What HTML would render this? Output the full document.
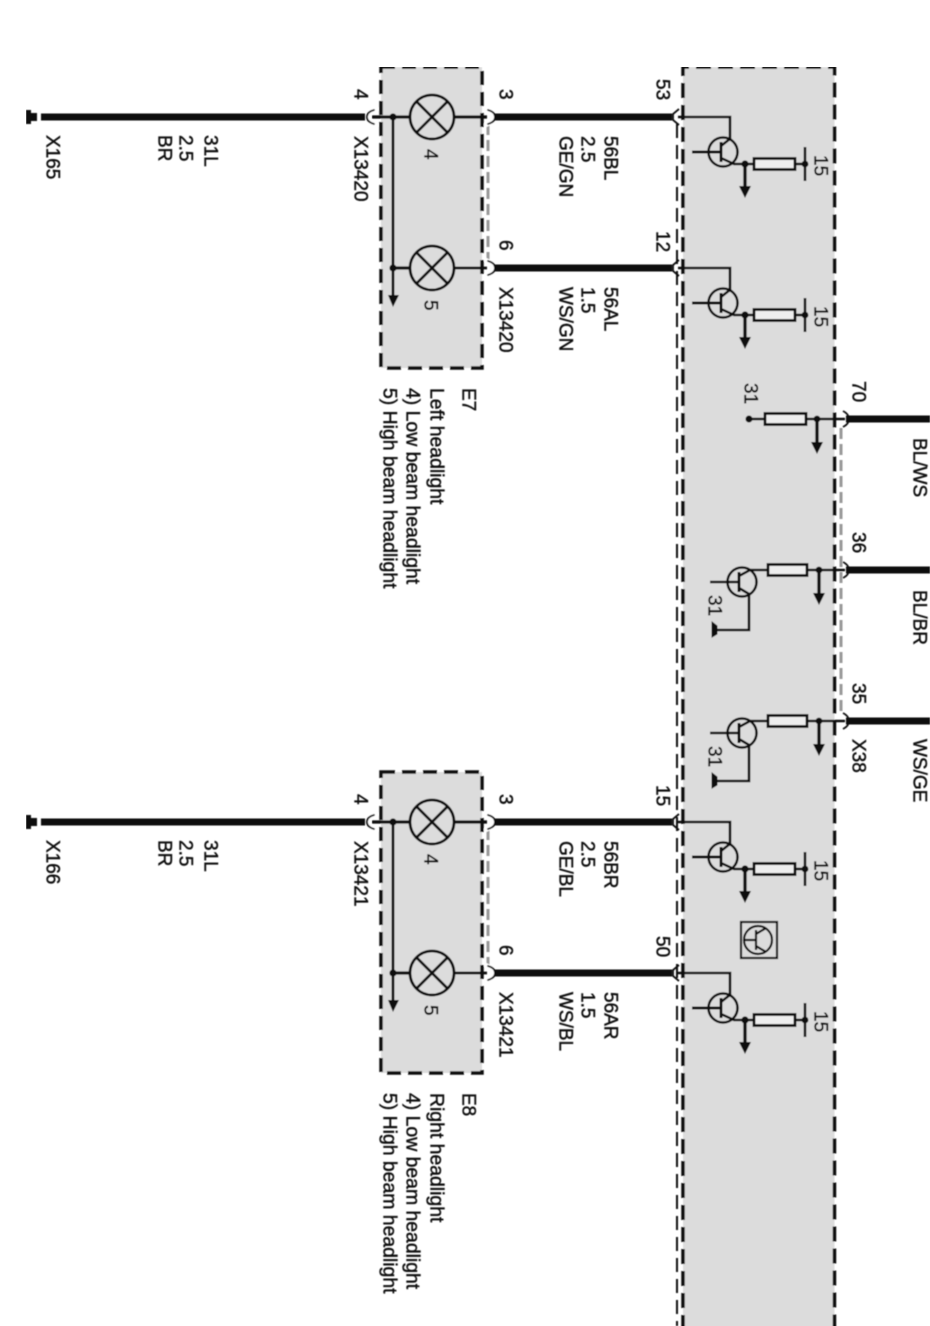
<!DOCTYPE html>
<html><head><meta charset="utf-8"><style>
html,body{margin:0;padding:0;background:#fff}
svg{display:block}
text{font-family:"Liberation Sans",sans-serif;font-size:19px;fill:#111;stroke:#111;stroke-width:.45px}
text.h{font-size:19.4px}
</style></head><body>
<svg width="930" height="1326" viewBox="0 0 930 1326" xmlns="http://www.w3.org/2000/svg">
<defs>
<filter id="b" x="0" y="0" width="100%" height="100%"><feGaussianBlur stdDeviation="0.4"/></filter>
<g id="npn" fill="none" stroke="#111" stroke-width="2.600">
<circle cx="723" cy="35" r="14.500"/>
<path d="M678 0H730V24" />
<path d="M692 35H721" stroke-width="3"/>
<path d="M721 25V45" stroke-width="3"/>
<path d="M721 29L731 21M721 41L734 47H754"/>
<path d="M745 47V72" stroke-width="3.400"/>
<path d="M795 47H805"/>
<path d="M805 30V64"/>
<rect x="754" y="41.500" width="41" height="11" fill="#eee" stroke-width="2.800"/>
<circle cx="745" cy="47" r="3.600" fill="#111" stroke="none"/>
<circle cx="805" cy="47" r="3.400" fill="#111" stroke="none"/>
<path d="M739 69H751L745 81Z" fill="#111" stroke="none"/>
</g>
<g id="out" fill="none" stroke="#111" stroke-width="2.600">
<circle cx="742" cy="12" r="14.500"/>
<path d="M710 12H738"/>
<path d="M739 2V22" stroke-width="3"/>
<path d="M739 6L750 0H768"/>
<path d="M739 18L749 24V60H717"/>
<path d="M807 0H845"/>
<path d="M819 0V25" stroke-width="3.400"/>
<rect x="768" y="-5.500" width="39" height="11" fill="#eee" stroke-width="2.800"/>
<circle cx="819" cy="0" r="3.400" fill="#111" stroke="none"/>
<path d="M813 23H825L819 35Z" fill="#111" stroke="none"/>
<path d="M712 52V67L717 64V56Z" fill="#111" stroke="#111" stroke-width="1"/>
</g>
<g id="lampbox">
<rect x="381" y="67" width="101" height="301" fill="#dcdcdc" stroke="#111" stroke-width="3.500" stroke-dasharray="14 7"/>
<path d="M488 124V260" stroke="#999" stroke-width="3" stroke-dasharray="11 5" fill="none"/>
<g fill="none" stroke="#111" stroke-width="2.800">
<path d="M372 117H410M454 117H487" stroke-width="3.200"/>
<path d="M393 117V296"/>
<path d="M393 268H410" stroke-width="3.200"/>
<path d="M454 268H487"/>
<circle cx="432" cy="117" r="22"/>
<path d="M416.500 101.500L447.500 132.500M447.500 101.500L416.500 132.500"/>
<circle cx="432" cy="268" r="22"/>
<path d="M416.500 252.500L447.500 283.500M447.500 252.500L416.500 283.500"/>
</g>
<circle cx="393" cy="117" r="3.600" fill="#111"/>
<circle cx="393" cy="268" r="3.600" fill="#111"/>
<path d="M388 295H399L393 307Z" fill="#111"/>
<path d="M41 113.500H365V120.500H41Z" fill="#111"/>
<path d="M491 113.500H672V120.500H491Z" fill="#111"/>
<path d="M491 264.500H672V271.500H491Z" fill="#111"/>
<path d="M26 110H31V113H37V121H31V124H26Z" fill="#111"/>
<g fill="none" stroke-linecap="round">
<path d="M376 109Q368 112 369 117Q368 122 376 125" stroke="#fff" stroke-width="4"/>
<path d="M374 110Q367 112 367 117Q367 122 374 124" stroke="#111" stroke-width="1.800"/>
<path d="M486 109Q494 112 493 117Q494 122 486 125" stroke="#fff" stroke-width="4"/>
<path d="M488 110Q495 112 495 117Q495 122 488 124" stroke="#111" stroke-width="1.800"/>
<path d="M486 260Q494 263 493 268Q494 273 486 276" stroke="#fff" stroke-width="4"/>
<path d="M488 261Q495 263 495 268Q495 273 488 275" stroke="#111" stroke-width="1.800"/>
</g>
</g>
</defs>
<rect width="930" height="1326" fill="#fff"/>
<g filter="url(#b)">
<path d="M683 1330V67H834.500V1330" fill="#dcdcdc" stroke="#111" stroke-width="3.500" stroke-dasharray="15 7"/>
<path d="M677 124V1326" fill="none" stroke="#111" stroke-width="2" stroke-dasharray="14 7"/>
<path d="M841 428V716" fill="none" stroke="#999" stroke-width="3" stroke-dasharray="11 5"/>
<use href="#lampbox"/>
<use href="#lampbox" y="705"/>
<path d="M846 415.500H930V422.500H846Z M846 566.500H930V573.500H846Z M846 717.500H930V724.500H846Z" fill="#111"/>
<g fill="none" stroke="#111" stroke-width="1.800">
<path d="M679 109L673 114V120L679 125M679 260L673 265V271L679 276M679 814L673 819V825L679 830M679 965L673 970V976L679 981"/>
<path d="M843 411Q849 414 849 419Q849 424 843 427M843 562Q849 565 849 570Q849 575 843 578M843 713Q849 716 849 721Q849 726 843 729"/>
</g>
<use href="#npn" y="117"/>
<use href="#npn" y="268"/>
<use href="#npn" y="822"/>
<use href="#npn" y="973"/>
<use href="#out" y="570"/>
<use href="#out" y="721"/>
<g fill="none" stroke="#111" stroke-width="2.600">
<path d="M749 419H845"/>
<path d="M817 419V444" stroke-width="3.400"/>
<rect x="765" y="413.500" width="41" height="11" fill="#eee" stroke-width="2.800"/>
</g>
<circle cx="817" cy="419" r="3.400" fill="#111"/>
<path d="M811 442H823L817 454Z" fill="#111"/>
<circle cx="749" cy="419" r="3.500" fill="#111"/>
<g fill="none" stroke="#111" stroke-width="2.200">
<rect x="741" y="922" width="36" height="36"/>
<circle cx="758" cy="940" r="14"/>
<path d="M744 940H756M756 930V950M756 934L766 928M756 946L766 952"/>
</g>
<g transform="translate(1.500,0)">
<text transform="translate(45,135) rotate(90)">X165</text>
<text transform="translate(157,135) rotate(90)">BR</text>
<text transform="translate(178,135) rotate(90)">2.5</text>
<text transform="translate(203,135) rotate(90)">31L</text>
<text transform="translate(353,89) rotate(90)">4</text>
<text transform="translate(353,136) rotate(90)">X13420</text>
<text transform="translate(423,149) rotate(90)">4</text>
<text transform="translate(423,300) rotate(90)">5</text>
<text transform="translate(498,89) rotate(90)">3</text>
<text transform="translate(498,240) rotate(90)">6</text>
<text transform="translate(498,287) rotate(90)">X13420</text>
<text transform="translate(558,136) rotate(90)">GE/GN</text>
<text transform="translate(580,136) rotate(90)">2.5</text>
<text transform="translate(603,136) rotate(90)">56BL</text>
<text transform="translate(558,287) rotate(90)">WS/GN</text>
<text transform="translate(580,287) rotate(90)">1.5</text>
<text transform="translate(603,287) rotate(90)">56AL</text>
<text transform="translate(461,388) rotate(90)">E7</text>
<text class="h" transform="translate(429,388) rotate(90)">Left headlight</text>
<text class="h" transform="translate(405,388) rotate(90)">4) Low beam headlight</text>
<text class="h" transform="translate(382,388) rotate(90)">5) High beam headlight</text>

<text transform="translate(45,840) rotate(90)">X166</text>
<text transform="translate(157,840) rotate(90)">BR</text>
<text transform="translate(178,840) rotate(90)">2.5</text>
<text transform="translate(203,840) rotate(90)">31L</text>
<text transform="translate(353,794) rotate(90)">4</text>
<text transform="translate(353,841) rotate(90)">X13421</text>
<text transform="translate(423,854) rotate(90)">4</text>
<text transform="translate(423,1005) rotate(90)">5</text>
<text transform="translate(498,794) rotate(90)">3</text>
<text transform="translate(498,945) rotate(90)">6</text>
<text transform="translate(498,992) rotate(90)">X13421</text>
<text transform="translate(558,841) rotate(90)">GE/BL</text>
<text transform="translate(580,841) rotate(90)">2.5</text>
<text transform="translate(603,841) rotate(90)">56BR</text>
<text transform="translate(558,992) rotate(90)">WS/BL</text>
<text transform="translate(580,992) rotate(90)">1.5</text>
<text transform="translate(603,992) rotate(90)">56AR</text>
<text transform="translate(461,1093) rotate(90)">E8</text>
<text class="h" transform="translate(429,1093) rotate(90)">Right headlight</text>
<text class="h" transform="translate(405,1093) rotate(90)">4) Low beam headlight</text>
<text class="h" transform="translate(382,1093) rotate(90)">5) High beam headlight</text>

<text transform="translate(655,79) rotate(90)">53</text>
<text transform="translate(655,231) rotate(90)">12</text>
<text transform="translate(655,785) rotate(90)">15</text>
<text transform="translate(655,936) rotate(90)">50</text>
<text transform="translate(813,155) rotate(90)">15</text>
<text transform="translate(813,306) rotate(90)">15</text>
<text transform="translate(813,860) rotate(90)">15</text>
<text transform="translate(813,1011) rotate(90)">15</text>
<text transform="translate(743,383) rotate(90)">31</text>
<text transform="translate(707,595) rotate(90)">31</text>
<text transform="translate(707,746) rotate(90)">31</text>
<text transform="translate(851,381) rotate(90)">70</text>
<text transform="translate(851,532) rotate(90)">36</text>
<text transform="translate(851,683) rotate(90)">35</text>
<text transform="translate(851,739) rotate(90)">X38</text>
<text transform="translate(912,438) rotate(90)">BL/WS</text>
<text transform="translate(912,590) rotate(90)">BL/BR</text>
<text transform="translate(912,739) rotate(90)">WS/GE</text>
</g>
</g>
</svg>
</body></html>
